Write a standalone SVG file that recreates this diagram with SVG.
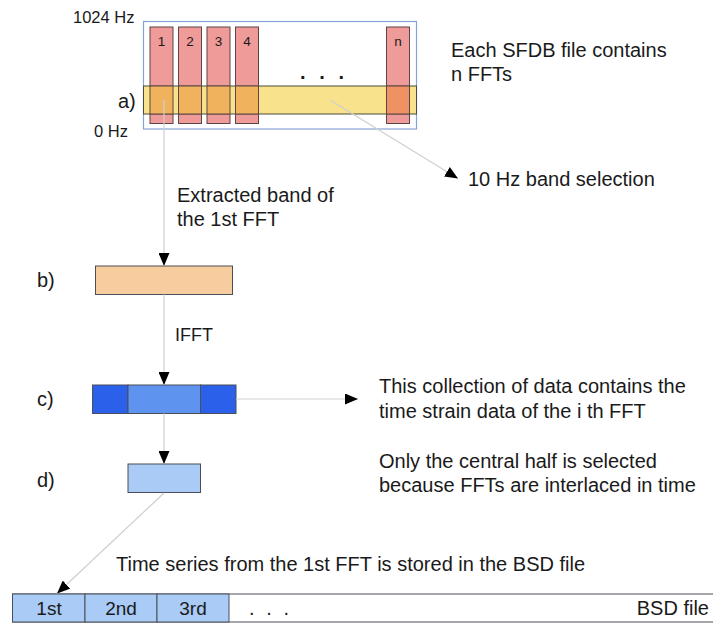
<svg xmlns="http://www.w3.org/2000/svg" width="713" height="623" viewBox="0 0 713 623">
<defs>
<style>
text{font-family:"Liberation Sans",Arial,sans-serif;fill:#1a1a1a}
.t{font-size:20px}
.c{font-size:19px;text-anchor:middle}
.s{font-size:16.5px}
.n{font-size:13.5px;text-anchor:middle}
.bar{fill:#ee9b99;stroke:#5e4444;stroke-width:1}
.ov{fill:#f1b25e;stroke:#5e4444;stroke-width:1}
.band{fill:#f9e28c;stroke:#4d4a3a;stroke-width:1}
.box{stroke:#4a4f5a;stroke-width:1}
.con{fill:none;stroke:#cfcfcf;stroke-width:1.2}
</style>
<marker id="ah" markerUnits="userSpaceOnUse" markerWidth="13" markerHeight="11" refX="13" refY="5.5" orient="auto">
<path d="M0,0 L13,5.5 L0,11 z" fill="#000"/>
</marker>
</defs>
<rect width="713" height="623" fill="#fff"/>

<g id="panel-a">
<rect x="143.5" y="21.5" width="273" height="107.5" fill="#fff" stroke="#85a3d2" stroke-width="1.2"/>
<rect class="bar" x="150" y="27" width="23" height="96.5"/>
<rect class="bar" x="178.5" y="27" width="23" height="96.5"/>
<rect class="bar" x="207" y="27" width="23" height="96.5"/>
<rect class="bar" x="235.5" y="27" width="23" height="96.5"/>
<rect class="bar" x="386.5" y="27" width="23" height="96.5"/>
<rect class="band" x="143.5" y="86" width="273" height="28"/>
<rect class="ov" x="150" y="86" width="23" height="28"/>
<rect class="ov" x="178.5" y="86" width="23" height="28"/>
<rect class="ov" x="207" y="86" width="23" height="28"/>
<rect class="ov" x="235.5" y="86" width="23" height="28"/>
<rect class="ov" x="386.5" y="86" width="23" height="28" style="fill:#ee9163"/>
<text class="n" x="161.5" y="46">1</text>
<text class="n" x="190" y="46">2</text>
<text class="n" x="218.5" y="46">3</text>
<text class="n" x="247" y="46">4</text>
<text class="n" x="398" y="46">n</text>
<text class="t" x="300" y="79" font-weight="bold" textLength="44" lengthAdjust="spacing">. . .</text>
<text class="s" x="73" y="23">1024 Hz</text>
<text class="s" x="94" y="137">0 Hz</text>
<text class="t" x="118" y="108">a)</text>
</g>

<g id="node-b">
<rect class="box" x="95.5" y="266" width="137" height="28.5" fill="#f7cd9f"/>
<text class="t" x="37" y="287">b)</text>
</g>

<g id="node-c">
<rect class="box" x="92.5" y="385" width="35.5" height="28.5" fill="#2b61ea" stroke="#1f2f5a"/>
<rect class="box" x="128" y="385" width="72.5" height="28.5" fill="#5e94f0" stroke="#1f2f5a"/>
<rect class="box" x="200.5" y="385" width="35.5" height="28.5" fill="#2b61ea" stroke="#1f2f5a"/>
<text class="t" x="37" y="406">c)</text>
</g>

<g id="node-d">
<rect class="box" x="128" y="464" width="72.5" height="28.5" fill="#a9cbf6"/>
<text class="t" x="37" y="487">d)</text>
</g>

<g id="bsd-file">
<rect class="box" x="12.5" y="594" width="720" height="28" fill="#fff"/>
<rect class="box" x="12.5" y="594" width="72.5" height="28" fill="#a9cbf6"/>
<rect class="box" x="85" y="594" width="72" height="28" fill="#a9cbf6"/>
<rect class="box" x="157" y="594" width="72" height="28" fill="#a9cbf6"/>
<text class="c" x="49" y="615">1st</text>
<text class="c" x="121" y="615">2nd</text>
<text class="c" x="193" y="615">3rd</text>
<text class="t" x="249" y="615" textLength="40" lengthAdjust="spacing">. . .</text>
<text class="t" x="709" y="615" text-anchor="end">BSD file</text>
</g>

<g id="labels">
<text class="t" x="451" y="57">Each SFDB file contains</text>
<text class="t" x="451" y="81">n FFTs</text>
<text class="t" x="468" y="186">10 Hz band selection</text>
<text class="t" x="177" y="202">Extracted band of</text>
<text class="t" x="177" y="226">the 1st FFT</text>
<text class="t" x="175" y="341" style="font-size:18px">IFFT</text>
<text class="t" x="379" y="393">This collection of data contains the</text>
<text class="t" x="379" y="418">time strain data of the i th FFT</text>
<text class="t" x="379" y="468">Only the central half is selected</text>
<text class="t" x="379" y="492">because FFTs are interlaced in time</text>
<text class="t" x="116" y="571">Time series from the 1st FFT is stored in the BSD file</text>
</g>

<g id="connectors">
<line class="con" x1="164" y1="100" x2="164" y2="266" marker-end="url(#ah)"/>
<line class="con" x1="164" y1="294.5" x2="164" y2="385" marker-end="url(#ah)"/>
<line class="con" x1="164" y1="413.5" x2="164" y2="464" marker-end="url(#ah)"/>
<line class="con" x1="236" y1="399" x2="358" y2="399" marker-end="url(#ah)"/>
<line class="con" x1="330" y1="100" x2="458" y2="178.5" marker-end="url(#ah)"/>
<line class="con" x1="164" y1="493" x2="57" y2="593.5" marker-end="url(#ah)"/>
</g>
</svg>
